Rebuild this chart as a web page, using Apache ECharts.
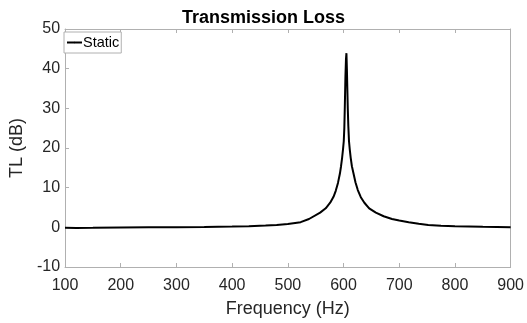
<!DOCTYPE html>
<html>
<head>
<meta charset="utf-8">
<script src="https://cdn.jsdelivr.net/npm/echarts@6/dist/echarts.min.js"></script>
<style>
html,body{margin:0;padding:0;background:#fff;}
#c{width:527px;height:323px;}
</style>
</head>
<body>
<div id="c"></div>
<script>
var freq = [100,120,150,200,250,300,350,400,430,460,480,500,523,538,558,568,576,582,586,590,593.4,595.5,597.5,599,600.4,601.4,602.2,603.4,604.4,605.2,606,606.8,607.6,608.6,609.8,611.2,612.8,615,618,621.5,625.6,631,637.4,646,658,672,687,700,717,735,752,775,800,850,900];
var tl = [-0.1,-0.15,-0.12,-0.05,0,0.05,0.1,0.2,0.3,0.45,0.6,0.85,1.3,2.1,3.7,4.8,6.2,7.7,9.2,11.2,13.5,15.4,17.6,19.6,21.7,25,29.8,38,42.5,43.9,40,35,30,25.5,21.7,19.6,17.6,15.4,13.5,11.3,9.4,7.6,6.2,4.8,3.7,2.8,2.1,1.7,1.3,0.9,0.6,0.4,0.3,0.15,0.05];
var xTicks = {min:100, max:900, step:100};
var yTicks = {min:-10, max:50, step:10};
var seriesName = 'Static';

var data = freq.map(function(f,i){return [f, tl[i]];});
var axisCol = '#b0b0b0';
var txtCol = '#262626';
var ff = 'Liberation Sans, Arial, sans-serif';
var chart = echarts.init(document.getElementById('c'), null, {renderer:'canvas'});
chart.setOption({
  animation:false,
  backgroundColor:'#fff',
  title:{text:'Transmission Loss', left:'center', top:4,
    textStyle:{fontFamily:ff, fontSize:18, fontWeight:'bold', color:'#000'}},
  grid:{left:60, right:13, top:29, bottom:49},
  legend:{data:[seriesName], left:64, top:32, orient:'vertical',
    padding:[3,2,3,2], itemWidth:15, itemHeight:2, itemGap:2,
    borderColor:'#b0b0b0', borderWidth:1, backgroundColor:'#fff',
    textStyle:{fontFamily:ff, fontSize:14.5, color:'#000', padding:[0,0,0,-4]}},
  xAxis:[{type:'value', min:xTicks.min, max:xTicks.max, interval:xTicks.step,
    name:'Frequency (Hz)', nameLocation:'middle', nameGap:33,
    nameTextStyle:{fontFamily:ff, fontSize:18, color:txtCol},
    axisLine:{show:true, onZero:false, lineStyle:{color:axisCol}},
    axisTick:{show:true, inside:true, length:4, lineStyle:{color:axisCol}},
    axisLabel:{fontFamily:ff, fontSize:16, color:txtCol, margin:11},
    splitLine:{show:false}},
   {type:'value', position:'top', min:xTicks.min, max:xTicks.max, interval:xTicks.step,
    axisLine:{show:true, onZero:false, lineStyle:{color:axisCol}},
    axisTick:{show:true, inside:true, length:4, lineStyle:{color:axisCol}},
    axisLabel:{show:false}, splitLine:{show:false}}],
  yAxis:[{type:'value', min:yTicks.min, max:yTicks.max, interval:yTicks.step,
    name:'TL (dB)', nameLocation:'middle', nameGap:26,
    nameTextStyle:{fontFamily:ff, fontSize:18, color:txtCol},
    axisLine:{show:true, onZero:false, lineStyle:{color:axisCol}},
    axisTick:{show:true, inside:true, length:4, lineStyle:{color:axisCol}},
    axisLabel:{fontFamily:ff, fontSize:16, color:txtCol, margin:5},
    splitLine:{show:false}},
   {type:'value', position:'right', min:yTicks.min, max:yTicks.max, interval:yTicks.step,
    axisLine:{show:true, onZero:false, lineStyle:{color:axisCol}},
    axisTick:{show:false}, axisLabel:{show:false}, splitLine:{show:false}}],
  series:[{name:seriesName, type:'line', data:data, symbol:'none', showSymbol:false,
    lineStyle:{color:'#000', width:2}, itemStyle:{color:'#000'}}]
});
</script>
</body>
</html>
